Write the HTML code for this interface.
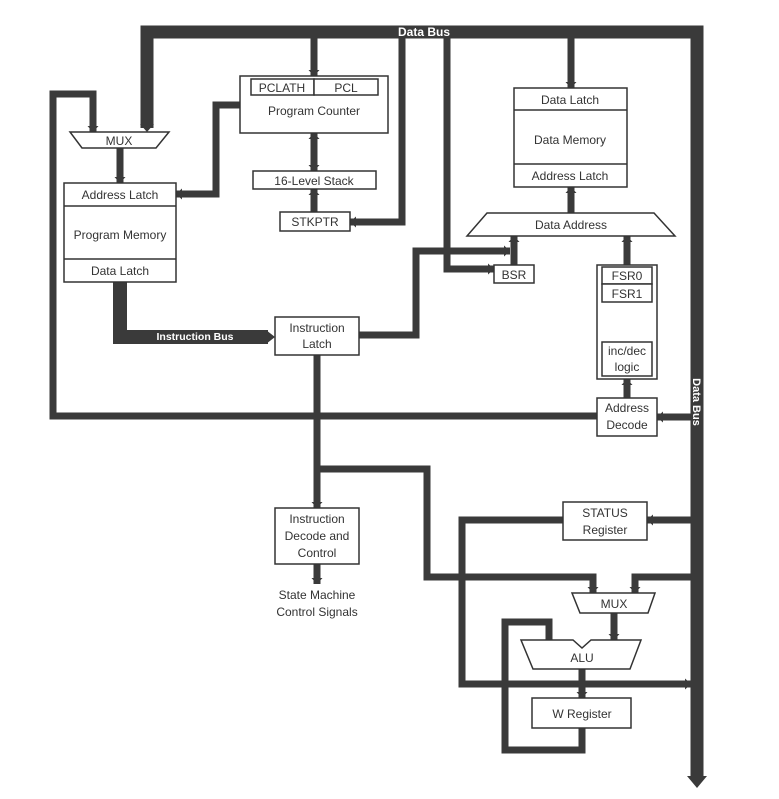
<!DOCTYPE html>
<html><head><style>html,body{margin:0;padding:0;background:#fff}svg{display:block}text{font-family:"Liberation Sans",sans-serif;fill:#333}</style></head>
<body>
<svg width="779" height="799" viewBox="0 0 779 799" xmlns="http://www.w3.org/2000/svg">
<defs>
<marker id="a" markerWidth="6" markerHeight="11" refX="6" refY="5.5" orient="auto-start-reverse" markerUnits="userSpaceOnUse"><path d="M0,0 L6,5.5 L0,11z" fill="#3a3a3a"/></marker>
</defs>
<g fill="none" stroke="#3a3a3a" stroke-linejoin="miter" stroke-linecap="butt">
<path d="M147,128 V32 H697 V778" stroke-width="13" />
<polygon points="687,776 707,776 697,788" fill="#3a3a3a" stroke="none"/>
<polygon points="140,124 154,124 147,132" fill="#3a3a3a" stroke="none"/>
<path d="M314,38 V76" stroke-width="7" marker-end="url(#a)"/>
<path d="M314,133 V171" stroke-width="7" marker-end="url(#a)" marker-start="url(#a)"/>
<path d="M314,212 V189" stroke-width="7" marker-end="url(#a)"/>
<path d="M402,38 V222 H350" stroke-width="7" marker-end="url(#a)"/>
<path d="M240,105 H216 V194 H176" stroke-width="7" marker-end="url(#a)"/>
<path d="M597,416 H53 V94 H93 V132" stroke-width="7" marker-end="url(#a)"/>
<path d="M120,148 V183" stroke-width="7" marker-end="url(#a)"/>
<path d="M120,282 V337 H268" stroke-width="14"/>
<polygon points="266,330 275,337 266,344" fill="#3a3a3a" stroke="none"/>
<path d="M359,335 H416 V251 H510" stroke-width="7" marker-end="url(#a)"/>
<path d="M447,38 V269 H494" stroke-width="7" marker-end="url(#a)"/>
<path d="M514,265 V236" stroke-width="7" marker-end="url(#a)"/>
<path d="M571,38 V88" stroke-width="7" marker-end="url(#a)"/>
<path d="M571,213 V187" stroke-width="7" marker-end="url(#a)"/>
<path d="M627,265 V236" stroke-width="7" marker-end="url(#a)"/>
<path d="M627,302 V342" stroke-width="7" marker-end="url(#a)" marker-start="url(#a)"/>
<path d="M627,398 V379" stroke-width="7" marker-end="url(#a)"/>
<path d="M691,417 H657" stroke-width="7" marker-end="url(#a)"/>
<path d="M317,355 V508" stroke-width="7" marker-end="url(#a)"/>
<path d="M317,564 V584" stroke-width="7" marker-end="url(#a)"/>
<path d="M317,469 H427 V577 H593 V593" stroke-width="7" marker-end="url(#a)"/>
<path d="M691,577 H635 V593" stroke-width="7" marker-end="url(#a)"/>
<path d="M691,520 H647" stroke-width="7" marker-end="url(#a)"/>
<path d="M563,520 H462 V684 H691" stroke-width="7" marker-end="url(#a)"/>
<path d="M614,613 V640" stroke-width="7" marker-end="url(#a)"/>
<path d="M582,669 V698" stroke-width="7" marker-end="url(#a)"/>
<path d="M582,728 V750 H505 V622 H549 V640" stroke-width="7"/>
</g>
<g fill="#fff" stroke="#333" stroke-width="1.5">
<rect x="240" y="76" width="148" height="57"/>
<rect x="251" y="79" width="63" height="16"/>
<rect x="314" y="79" width="64" height="16"/>
<rect x="253" y="171" width="123" height="18"/>
<rect x="280" y="212" width="70" height="19"/>
<polygon points="70,132 169,132 156,148 82,148"/>
<rect x="64" y="183" width="112" height="99"/>
<line x1="64" y1="206" x2="176" y2="206"/>
<line x1="64" y1="259" x2="176" y2="259"/>
<rect x="275" y="317" width="84" height="38"/>
<rect x="514" y="88" width="113" height="99"/>
<line x1="514" y1="110" x2="627" y2="110"/>
<line x1="514" y1="164" x2="627" y2="164"/>
<polygon points="487,213 654,213 675,236 467,236"/>
<rect x="494" y="265" width="40" height="18"/>
<rect x="597" y="265" width="60" height="114"/>
<rect x="602" y="267" width="50" height="17"/>
<rect x="602" y="284" width="50" height="18"/>
<rect x="602" y="342" width="50" height="34"/>
<rect x="597" y="398" width="60" height="38"/>
<rect x="275" y="508" width="84" height="56"/>
<rect x="563" y="502" width="84" height="38"/>
<polygon points="572,593 655,593 648,613 580,613"/>
<polygon points="521,640 573,640 582,648 591,640 641,640 630,669 533,669"/>
<rect x="532" y="698" width="99" height="30"/>
</g>
<g font-size="12" text-anchor="middle">
<text x="282" y="92">PCLATH</text><text x="346" y="92">PCL</text>
<text x="314" y="115">Program Counter</text>
<text x="314" y="185">16-Level Stack</text>
<text x="315" y="226">STKPTR</text>
<text x="119" y="145">MUX</text>
<text x="120" y="199">Address Latch</text>
<text x="120" y="239">Program Memory</text>
<text x="120" y="275">Data Latch</text>
<text x="317" y="332">Instruction</text><text x="317" y="348">Latch</text>
<text x="570" y="104">Data Latch</text>
<text x="570" y="144">Data Memory</text>
<text x="570" y="180">Address Latch</text>
<text x="571" y="229">Data Address</text>
<text x="514" y="279">BSR</text>
<text x="627" y="280">FSR0</text><text x="627" y="298">FSR1</text>
<text x="627" y="355">inc/dec</text><text x="627" y="371">logic</text>
<text x="627" y="412">Address</text><text x="627" y="429">Decode</text>
<text x="317" y="523">Instruction</text><text x="317" y="540">Decode and</text><text x="317" y="557">Control</text>
<text x="317" y="599">State Machine</text><text x="317" y="616">Control Signals</text>
<text x="605" y="517">STATUS</text><text x="605" y="534">Register</text>
<text x="614" y="608">MUX</text>
<text x="582" y="662">ALU</text>
<text x="582" y="718">W Register</text>
</g>
<text x="424" y="36" font-size="12" font-weight="bold" text-anchor="middle" style="fill:#fff">Data Bus</text>
<text x="195" y="340" font-size="10.5" font-weight="bold" text-anchor="middle" style="fill:#fff">Instruction Bus</text>
<text x="0" y="0" font-size="11" font-weight="bold" text-anchor="middle" style="fill:#fff" transform="translate(693,402) rotate(90)">Data Bus</text>
</svg>
</body></html>
